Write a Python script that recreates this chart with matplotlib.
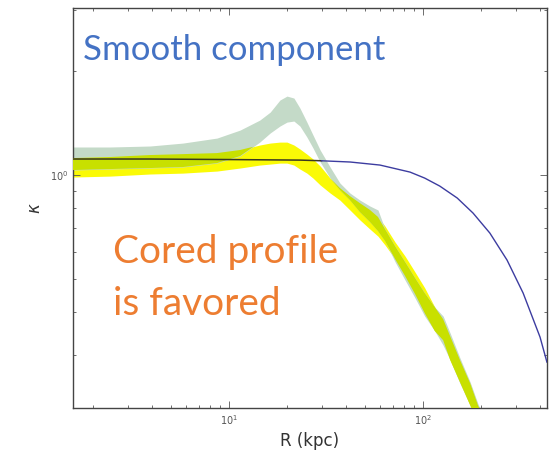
import numpy as np
import matplotlib
matplotlib.use("Agg")
import matplotlib.pyplot as plt
from matplotlib.ticker import NullFormatter

# Radius grid (kpc) shared by both posterior bands
R = [1.57, 2.44, 3.92, 5.79, 8.67, 11.4, 14.4, 16.3, 18.3, 19.9, 21.6, 23.2, 25.2,
     27.1, 29.5, 33.2, 37.3, 42.0, 47.3, 53.3, 58.6, 63.7, 71.8, 80.8, 91.0, 102,
     115, 127, 138, 155, 175, 192, 209]

# Green band (upper / lower convergence)
green_hi = [1.206, 1.206, 1.214, 1.238, 1.280, 1.350, 1.443, 1.522, 1.650, 1.694, 1.672,
            1.564, 1.424, 1.306, 1.182, 1.055, 0.948, 0.887, 0.846, 0.813, 0.792, 0.697,
            0.622, 0.560, 0.503, 0.455, 0.414, 0.390, 0.348, 0.295, 0.251, 0.217, 0.195]
green_lo = [1.034, 1.041, 1.048, 1.055, 1.083, 1.135, 1.246, 1.324, 1.387, 1.424, 1.434,
            1.387, 1.289, 1.198, 1.091, 0.980, 0.905, 0.846, 0.781, 0.731, 0.688, 0.644,
            0.560, 0.496, 0.440, 0.390, 0.353, 0.321, 0.291, 0.249, 0.215, 0.192, 0.170]

# Yellow band (upper / lower convergence)
yellow_hi = [1.120, 1.128, 1.143, 1.150, 1.158, 1.182, 1.222, 1.238, 1.246, 1.246, 1.222,
             1.190, 1.150, 1.113, 1.062, 0.980, 0.917, 0.869, 0.829, 0.792, 0.756, 0.711,
             0.639, 0.582, 0.523, 0.471, 0.414, 0.382, 0.341, 0.291, 0.249, 0.215, 0.194]
yellow_lo = [0.987, 0.993, 1.007, 1.013, 1.027, 1.048, 1.069, 1.076, 1.083, 1.083, 1.069,
             1.041, 1.013, 0.980, 0.936, 0.887, 0.846, 0.792, 0.741, 0.697, 0.665, 0.627,
             0.571, 0.510, 0.452, 0.398, 0.353, 0.332, 0.291, 0.251, 0.215, 0.192, 0.170]

# Smooth component
R_smooth = [1.57, 3.92, 10.0, 23.2, 30.0, 42.1, 60.0, 85.7, 102, 122, 150, 181, 221,
            271, 328, 401, 435]
kappa_smooth = [1.113, 1.113, 1.109, 1.105, 1.100, 1.091, 1.069, 1.020, 0.980, 0.929,
                0.858, 0.776, 0.679, 0.567, 0.455, 0.339, 0.287]

SAGE = "#c4dac8"
YELLOW = "#fafa06"
LIME = "#c8e000"

fig = plt.figure(figsize=(5.5, 4.51), dpi=100)
ax = fig.add_axes([73 / 550, 43 / 451, 474 / 550, 400 / 451])

Rv = np.array(R)
g_hi, g_lo = np.array(green_hi), np.array(green_lo)
y_hi, y_lo = np.array(yellow_hi), np.array(yellow_lo)

ax.fill_between(Rv, y_lo, y_hi, color=YELLOW, lw=0, zorder=1)
ax.fill_between(Rv, g_lo, g_hi, color=SAGE, lw=0, zorder=2)
ov_lo = np.maximum(g_lo, y_lo)
ov_hi = np.minimum(g_hi, y_hi)
ax.fill_between(Rv, ov_lo, ov_hi, where=ov_hi > ov_lo, interpolate=True,
                color=LIME, lw=0, zorder=3)

# smooth profile: darkened where it runs beneath the bands
k = R_smooth.index(30.0)
ax.plot(R_smooth[:k + 1], kappa_smooth[:k + 1], color="#3a3820", lw=1.1, zorder=4)
ax.plot(R_smooth[k:], kappa_smooth[k:], color="#3c3ca0", lw=1.0, zorder=4)

ax.set_xscale("log")
ax.set_yscale("log")
ax.set_xlim(1.57, 435.5)
ax.set_ylim(0.2112, 3.05)

ax.yaxis.set_minor_formatter(NullFormatter())
ax.xaxis.set_minor_formatter(NullFormatter())
ax.tick_params(which="both", direction="in", top=True, right=True,
               colors="#555555", labelsize=7, width=0.6)
ax.tick_params(which="major", length=5)
ax.tick_params(which="minor", length=2.5)
for s in ax.spines.values():
    s.set_color("#444444")
    s.set_linewidth(1.0)

ax.set_xlabel("R (kpc)", fontsize=12, color="#333333", labelpad=4)
ax.set_ylabel(r"$\kappa$", fontsize=12, color="#333333", labelpad=4)

fig.text(83 / 550, 1 - 60 / 451, "Smooth component", color="#4472c4",
         fontsize=25, family="Lato", va="baseline", ha="left")
fig.text(113 / 550, 1 - 263 / 451, "Cored profile", color="#ed7d31",
         fontsize=28, family="Lato", va="baseline", ha="left")
fig.text(113 / 550, 1 - 315 / 451, "is favored", color="#ed7d31",
         fontsize=28, family="Lato", va="baseline", ha="left")

fig.savefig("out.png", dpi=100)
